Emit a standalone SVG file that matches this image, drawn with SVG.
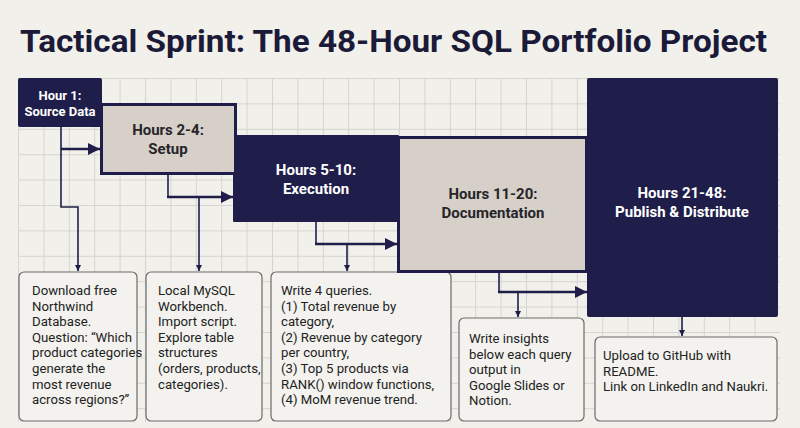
<svg xmlns="http://www.w3.org/2000/svg" width="800" height="428" viewBox="0 0 800 428">
<defs>
<style>
.title{font-family:Roboto,"Liberation Sans",sans-serif;font-weight:700;font-size:32px;fill:#1b1a38}
.nav{fill:#1f1e4a}
.tau{fill:#d6d0c8;stroke:#1f1e4a;stroke-width:3}
.lt{font-family:Roboto,"Liberation Sans",sans-serif;font-weight:700;font-size:15px;fill:#fff;text-anchor:middle}
.dt{font-family:Roboto,"Liberation Sans",sans-serif;font-weight:700;font-size:15px;fill:#26252a;text-anchor:middle}
.note{fill:#f3f2ee;stroke:#6a6a6a;stroke-width:1.2}
.nt{font-family:Roboto,"Liberation Sans",sans-serif;font-size:13.2px;fill:#222}
.thick{fill:none;stroke:#1f1e4a;stroke-width:2.5}
.thin{fill:none;stroke:#1f1e4a;stroke-width:1.6}
</style>
<pattern id="grid" x="18" y="78" width="25.4" height="25.4" patternUnits="userSpaceOnUse">
<path d="M0 0.5H25.4M0.5 0V25.4" fill="none" stroke="#d5d4ce" stroke-width="1"/>
</pattern>
<marker id="ah" viewBox="0 0 10 10" refX="10" refY="5" markerWidth="4.8" markerHeight="4.8" markerUnits="strokeWidth" orient="auto">
<path d="M0 0L10 5L0 10Z" fill="#1f1e4a"/>
</marker>
<marker id="as" viewBox="0 0 10 10" refX="10" refY="5" markerWidth="4" markerHeight="4" markerUnits="strokeWidth" orient="auto">
<path d="M0 0L10 5L0 10Z" fill="#1f1e4a"/>
</marker>
</defs>
<rect width="800" height="428" fill="#f1f0eb"/>
<rect x="18" y="78" width="762" height="344" fill="url(#grid)"/>
<text class="title" x="20" y="52" textLength="747" lengthAdjust="spacingAndGlyphs">Tactical Sprint: The 48-Hour SQL Portfolio Project</text>

<g id="notes">
<g id="note1">
<rect class="note" x="19" y="272" width="118" height="149" rx="5"/>
<text class="nt" x="32" y="295"><tspan x="32">Download free</tspan><tspan x="32" dy="15.6">Northwind</tspan><tspan x="32" dy="15.6">Database.</tspan><tspan x="32" dy="15.6">Question: “Which</tspan><tspan x="32" dy="15.6">product categories</tspan><tspan x="32" dy="15.6">generate the</tspan><tspan x="32" dy="15.6">most revenue</tspan><tspan x="32" dy="15.6">across regions?”</tspan></text>
</g>
<g id="note2">
<rect class="note" x="146" y="272" width="116" height="149" rx="5"/>
<text class="nt" x="158" y="295"><tspan x="158">Local MySQL</tspan><tspan x="158" dy="15.6">Workbench.</tspan><tspan x="158" dy="15.6">Import script.</tspan><tspan x="158" dy="15.6">Explore table</tspan><tspan x="158" dy="15.6">structures</tspan><tspan x="158" dy="15.6">(orders, products,</tspan><tspan x="158" dy="15.6">categories).</tspan></text>
</g>
<g id="note3">
<rect class="note" x="271" y="272" width="180" height="149" rx="5"/>
<text class="nt" x="281" y="295"><tspan x="281">Write 4 queries.</tspan><tspan x="281" dy="15.6">(1) Total revenue by</tspan><tspan x="281" dy="15.6">category,</tspan><tspan x="281" dy="15.6">(2) Revenue by category</tspan><tspan x="281" dy="15.6">per country,</tspan><tspan x="281" dy="15.6">(3) Top 5 products via</tspan><tspan x="281" dy="15.6">RANK() window functions,</tspan><tspan x="281" dy="15.6">(4) MoM revenue trend.</tspan></text>
</g>
<g id="note4">
<rect class="note" x="459" y="318" width="125" height="103" rx="5"/>
<text class="nt" x="469" y="343"><tspan x="469">Write insights</tspan><tspan x="469" dy="15.6">below each query</tspan><tspan x="469" dy="15.6">output in</tspan><tspan x="469" dy="15.6">Google Slides or</tspan><tspan x="469" dy="15.6">Notion.</tspan></text>
</g>
<g id="note5">
<rect class="note" x="595" y="337" width="182" height="84" rx="5"/>
<text class="nt" x="603" y="360"><tspan x="603">Upload to GitHub with</tspan><tspan x="603" dy="15.6">README.</tspan><tspan x="603" dy="15.6">Link on LinkedIn and Naukri.</tspan></text>
</g>
</g>

<g id="connectors">
<path class="thin" d="M61 127V207H78V271" marker-end="url(#as)"/>
<path class="thick" d="M61 149H100" marker-end="url(#ah)"/>
<path class="thin" d="M168 174V197"/>
<path class="thick" d="M167 197H233" marker-end="url(#ah)"/>
<path class="thin" d="M199 197V271" marker-end="url(#as)"/>
<path class="thin" d="M316 222V244"/>
<path class="thick" d="M315 244H397" marker-end="url(#ah)"/>
<path class="thin" d="M347 244V271" marker-end="url(#as)"/>
<path class="thin" d="M499 272V292"/>
<path class="thick" d="M498 292H587" marker-end="url(#ah)"/>
<path class="thin" d="M518 292V317" marker-end="url(#as)"/>
<path class="thin" d="M682 317V336" marker-end="url(#as)"/>
</g>

<g id="n3">
<rect class="nav" x="233" y="135" width="166" height="87" rx="1"/>
<text class="lt" x="316" y="175">Hours 5-10:</text>
<text class="lt" x="316" y="194">Execution</text>
</g>
<g id="n2">
<rect class="tau" x="101.5" y="104.5" width="134" height="69"/>
<text class="dt" x="168" y="135">Hours 2-4:</text>
<text class="dt" x="168" y="154">Setup</text>
</g>
<g id="n1">
<rect class="nav" x="18" y="78" width="84" height="49" rx="2"/>
<text class="lt" x="60" y="100" style="font-size:13px">Hour 1:</text>
<text class="lt" x="60" y="116" style="font-size:13px">Source Data</text>
</g>
<g id="n4">
<rect class="tau" x="398.5" y="137.5" width="188" height="134"/>
<text class="dt" x="493" y="199">Hours 11-20:</text>
<text class="dt" x="493" y="218">Documentation</text>
</g>
<g id="n5">
<rect class="nav" x="587" y="78" width="191" height="239" rx="2"/>
<text class="lt" x="682" y="198">Hours 21-48:</text>
<text class="lt" x="682" y="217">Publish &amp; Distribute</text>
</g>
</svg>
